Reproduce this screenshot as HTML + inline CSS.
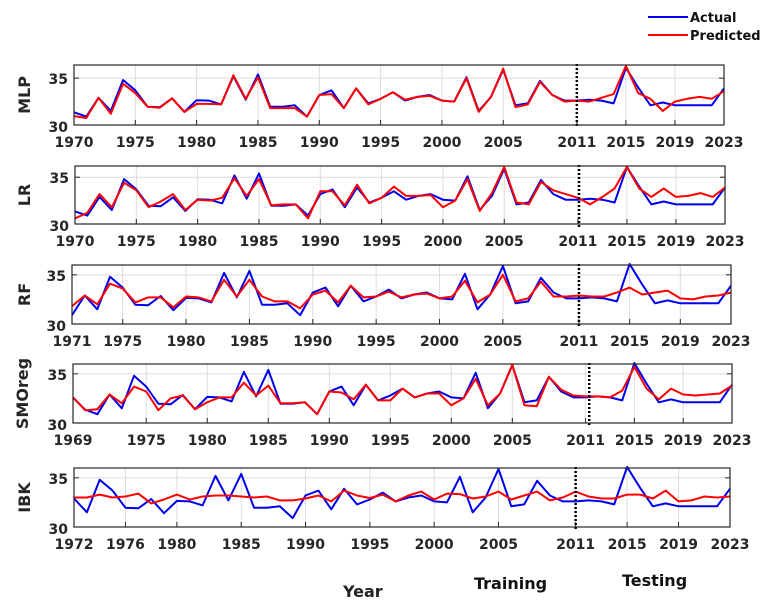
<!DOCTYPE html>
<html><head><meta charset="utf-8"><style>
html,body{margin:0;padding:0;background:#fff;}
svg{display:block;font-family:"DejaVu Sans","Liberation Sans",sans-serif;}
</style></head><body>
<svg id="chart" width="776" height="608" viewBox="0 0 776 608" xmlns="http://www.w3.org/2000/svg">
<g id="legend">
<line x1="648" y1="17" x2="688" y2="17" stroke="#0000f0" stroke-width="2"/>
<text x="690" y="22" font-size="13" font-weight="bold" fill="#111">Actual</text>
<line x1="648" y1="35" x2="688" y2="35" stroke="#ff0000" stroke-width="2"/>
<text x="690" y="40" font-size="13" font-weight="bold" fill="#111">Predicted</text>
</g>
<text x="343" y="597" font-size="16" font-weight="bold" fill="#222">Year</text>
<text x="474" y="589" font-size="16" font-weight="bold" fill="#111">Training</text>
<text x="622" y="586" font-size="16" font-weight="bold" fill="#111">Testing</text>
</svg>
<script>
const actualStart = 1969;
const actual = [32.6,
 31.35,30.9,32.9,31.5,34.8,33.7,31.95,31.9,32.85,31.4,
 32.65,32.6,32.2,35.2,32.7,35.4,31.95,31.95,32.1,30.9,
 33.2,33.7,31.8,33.9,32.3,32.8,33.5,32.6,33.0,33.2,
 32.6,32.5,35.1,31.5,33.0,35.9,32.1,32.3,34.7,33.2,
 32.6,32.6,32.7,32.6,32.3,36.1,34.0,32.1,32.4,32.1,
 32.1,32.1,32.1,33.9];
const mlpPred = [30.95,30.75,32.9,31.2,34.4,33.4,31.95,31.85,32.85,31.4,
 32.25,32.25,32.2,35.3,32.8,35.1,31.8,31.8,31.8,30.9,
 33.2,33.3,31.8,33.9,32.2,32.8,33.5,32.7,33.0,33.1,
 32.6,32.5,35.0,31.4,33.0,36.0,31.9,32.2,34.6,33.2,
 32.5,32.6,32.5,32.9,33.3,36.3,33.4,32.8,31.5,32.5,
 32.8,33.0,32.8,33.6];
const lrPred = [30.6,31.2,33.2,31.8,34.4,33.6,31.8,32.4,33.2,31.5,
 32.6,32.5,32.8,34.9,33.0,34.8,32.0,32.1,32.1,30.6,
 33.5,33.5,32.0,34.2,32.2,32.8,34.0,33.0,33.0,33.1,
 31.8,32.5,34.8,31.4,33.3,36.1,32.3,32.1,34.5,33.6,
 33.2,32.8,32.1,32.9,33.8,36.1,33.8,32.9,33.8,32.9,
 33.0,33.3,32.9,33.9];
const rfPred = [31.8,32.9,32.0,34.1,33.6,32.2,32.7,32.7,31.7,
 32.8,32.7,32.3,34.5,32.8,34.5,32.8,32.3,32.3,31.6,
 33.0,33.4,32.2,33.9,32.7,32.8,33.3,32.7,33.0,33.1,
 32.6,32.8,34.4,32.2,33.0,35.0,32.3,32.6,34.3,32.8,
 32.8,32.9,32.8,32.8,33.2,33.7,33.0,33.2,33.4,32.6,
 32.5,32.8,32.9,33.2];
const smoPred = [32.6,
 31.3,31.4,32.9,32.0,33.7,33.2,31.3,32.5,32.8,31.4,
 32.1,32.6,32.6,34.1,32.8,33.8,32.0,32.0,32.1,30.9,
 33.2,33.1,32.4,33.9,32.3,32.3,33.5,32.6,33.0,33.0,
 31.8,32.5,34.5,31.8,33.0,35.9,31.8,31.7,34.7,33.4,
 32.8,32.7,32.7,32.6,33.3,35.7,33.5,32.4,33.5,32.9,
 32.8,32.9,33.0,33.8];
const ibkPred = [33.0,33.0,33.3,33.0,33.1,33.4,32.4,32.8,
 33.3,32.8,33.1,33.2,33.2,33.1,33.0,33.1,32.7,32.7,
 32.9,33.2,32.6,33.7,33.2,32.95,33.3,32.6,33.2,33.6,
 32.8,33.4,33.35,32.9,33.1,33.6,32.8,33.2,33.6,32.7,
 33.0,33.6,33.1,32.9,32.9,33.3,33.3,32.9,33.7,32.6,
 32.7,33.1,33.0,33.1];
const mlpTicks = [1970,1975,1980,1985,1990,1995,2000,2005,2011,2015,2019,2023];
const lrTicks = [1970,1975,1980,1985,1990,1995,2000,2005,2011,2015,2019,2023];
const rfTicks = [1971,1975,1980,1985,1990,1995,2000,2005,2011,2015,2019,2023];
const smoTicks = [1969,1975,1980,1985,1990,1995,2000,2005,2011,2015,2019,2023];
const ibkTicks = [1972,1976,1980,1985,1990,1995,2000,2005,2011,2015,2019,2023];
const yTicks = [30,35];
const splitYear = 2011;

const panels = [
 {name:'mlp',label:'MLP',left:74,right:724,top:65,bottom:125,y0:1970,y1:2023,ymax:36.4,pred:mlpPred,ps:1970,ticks:mlpTicks,split:0,lx:24},
 {name:'lr',label:'LR',left:75,right:725,top:166,bottom:224,y0:1970,y1:2023,ymax:36.2,pred:lrPred,ps:1970,ticks:lrTicks,split:0.1,lx:24},
 {name:'rf',label:'RF',left:72,right:731,top:265,bottom:324,y0:1971,y1:2023,ymax:36.0,pred:rfPred,ps:1971,ticks:rfTicks,split:0,lx:24},
 {name:'smoreg',label:'SMOreg',left:73,right:732,top:364,bottom:423,y0:1969,y1:2023,ymax:36.0,pred:smoPred,ps:1969,ticks:smoTicks,split:0.3,lx:22},
 {name:'ibk',label:'IBK',left:74,right:730,top:468,bottom:527,y0:1972,y1:2023,ymax:36.0,pred:ibkPred,ps:1972,ticks:ibkTicks,split:0,lx:24}
];
const NS='http://www.w3.org/2000/svg';
const svg=document.getElementById('chart');
function mk(tag,attrs,parent){const e=document.createElementNS(NS,tag);for(const k in attrs)e.setAttribute(k,attrs[k]);parent.appendChild(e);return e;}
panels.forEach(p=>{
 const g=mk('g',{},svg);
 
 
 const xs=y=>p.left+(y-p.y0)/(p.y1-p.y0)*(p.right-p.left);
 const ys=v=>p.bottom-(v-30)/(p.ymax-30)*(p.bottom-p.top);
 p.ticks.forEach(t=>{
  const gl=mk('line',{x1:xs(t),x2:xs(t),y1:p.top,y2:p.bottom,stroke:'#dcdcdc','stroke-width':1},g);
  
  
  const tk=mk('line',{x1:xs(t),x2:xs(t),y1:p.bottom,y2:p.bottom-5,stroke:'#262626','stroke-width':1},g);
  
  
  const tl=mk('text',{x:xs(t),y:p.bottom+22,'text-anchor':'middle','font-size':14,'font-weight':'bold',fill:'#262626'},g);
  tl.textContent=t;
  
  
 });
 yTicks.forEach(v=>{
  if(v>30){const gl=mk('line',{x1:p.left,x2:p.right,y1:ys(v),y2:ys(v),stroke:'#dcdcdc','stroke-width':1},g);
   
   }
  const tk=mk('line',{x1:p.left,x2:p.left+5,y1:ys(v),y2:ys(v),stroke:'#262626'},g);
  
  
  const tk2=mk('line',{x1:p.right,x2:p.right-5,y1:ys(v),y2:ys(v),stroke:'#262626'},g);
  
  
  const tl=mk('text',{x:p.left-6,y:ys(v)+(v===30?7:6),'text-anchor':'end','font-size':14,'font-weight':'bold',fill:'#262626'},g);
  tl.textContent=v;
  
  
 });
 const cy=(p.top+p.bottom)/2;
 const yl=mk('text',{x:p.lx,y:cy,'text-anchor':'middle','font-size':16,'font-weight':'bold',fill:'#262626',transform:`rotate(-90 ${p.lx} ${cy})`,dy:6},g);
 yl.textContent=p.label;
 
 
 const pts=(arr,start)=>arr.map((v,i)=>xs(start+i).toFixed(1)+','+ys(v).toFixed(1)).join(' ');
 const actSlice=actual.slice(p.y0-actualStart);
 const a=mk('polyline',{points:pts(actSlice,p.y0),fill:'none',stroke:'#0000f0','stroke-width':2,'stroke-linejoin':'round'},g);
 
 
 const r=mk('polyline',{points:pts(p.pred,p.ps),fill:'none',stroke:'#ff0000','stroke-width':2,'stroke-linejoin':'round'},g);
 
 
 const sx=xs(splitYear+p.split);
 const sp=mk('line',{x1:sx,x2:sx,y1:p.top-1,y2:p.bottom+3,stroke:'#000','stroke-width':2.5,'stroke-dasharray':'2,2'},g);
 
 
 const box=mk('rect',{x:p.left,y:p.top,width:p.right-p.left,height:p.bottom-p.top,fill:'none',stroke:'#262626','stroke-width':1.2},g);
 
 
});
</script>
</body></html>
